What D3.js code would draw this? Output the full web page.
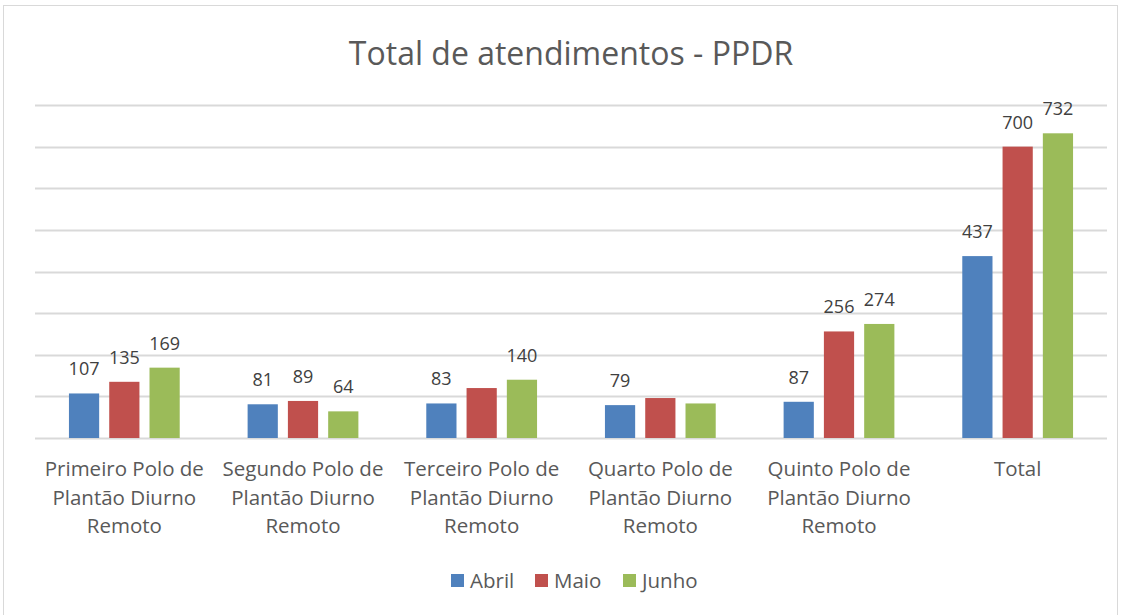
<!DOCTYPE html>
<html>
<head>
<meta charset="utf-8">
<title>Total de atendimentos - PPDR</title>
<script src="https://d3js.org/d3.v7.min.js"></script>
<style>
  body { margin: 0; background: #fff; }
  text { font-family: "Open Sans", Lato, sans-serif; }
</style>
</head>
<body>
<div id="chart"></div>
<script>
// dados
const categorias = [
  ["Primeiro Polo de", "Plantão Diurno", "Remoto"],
  ["Segundo Polo de", "Plantão Diurno", "Remoto"],
  ["Terceiro Polo de", "Plantão Diurno", "Remoto"],
  ["Quarto Polo de", "Plantão Diurno", "Remoto"],
  ["Quinto Polo de", "Plantão Diurno", "Remoto"],
  ["Total"]
];
const series = ["Abril", "Maio", "Junho"];
const abril = [107, 81, 83, 79, 87, 437];
const maio  = [135, 89, 120, 96, 256, 700];
const junho = [169, 64, 140, 83, 274, 732];
// rótulos que aparecem no gráfico (null = sem rótulo)
const rotAbril = [107, 81, 83, 79, 87, 437];
const rotMaio  = [135, 89, null, null, 256, 700];
const rotJunho = [169, 64, 140, null, 274, 732];
const yTicks = [0, 100, 200, 300, 400, 500, 600, 700, 800];
const cores = ["#4f81bd", "#c0504d", "#9bbb59"];

const valores = [abril, maio, junho];
const rotulos = [rotAbril, rotMaio, rotJunho];

let width = 1129, height = 615;
let margin = {left: 35, right: 22, top: 105, bottom: 177};

let svg = d3.select("#chart").append("svg")
    .attr("width", width)
    .attr("height", height);

// borda
svg.append("rect")
    .attr("x", 3.5).attr("y", 5.5)
    .attr("width", 1114).attr("height", 620)
    .attr("fill", "#fff")
    .attr("stroke", "#d9d9d9");

let x0 = d3.scaleBand()
    .domain(d3.range(categorias.length))
    .range([margin.left, width - margin.right])
    .paddingInner(0.38)
    .paddingOuter(0.19);

let x1 = d3.scaleBand()
    .domain(series)
    .range([0, x0.bandwidth()])
    .paddingInner(0.25);

let y = d3.scaleLinear()
    .domain([0, 800])
    .range([height - margin.bottom, margin.top]);

// grade
svg.append("g")
  .selectAll("line")
  .data(yTicks)
  .enter().append("line")
    .attr("x1", margin.left)
    .attr("x2", width - margin.right)
    .attr("y1", d => Math.round(y(d)) + 0.5)
    .attr("y2", d => Math.round(y(d)) + 0.5)
    .attr("stroke", "#d9d9d9")
    .attr("stroke-width", 2);

// barras e rótulos (um grupo por série, dados = índices das categorias)
series.forEach(function(s, j) {
  let g = svg.append("g");

  g.selectAll("rect")
    .data(d3.range(categorias.length))
    .enter().append("rect")
      .attr("x", i => x0(i) + x1(s))
      .attr("width", x1.bandwidth())
      .attr("y", i => y(valores[j][i]))
      .attr("height", i => y(0) - y(valores[j][i]))
      .attr("fill", cores[j]);

  g.selectAll("text")
    .data(d3.range(categorias.length).filter(i => rotulos[j][i] != null))
    .enter().append("text")
      .attr("x", i => x0(i) + x1(s) + x1.bandwidth() / 2)
      .attr("y", i => y(valores[j][i]) - 18)
      .attr("text-anchor", "middle")
      .attr("font-size", 18)
      .attr("fill", "#404040")
      .text(i => rotulos[j][i]);
});

// rótulos do eixo x
let rotX = svg.append("g")
  .selectAll("text")
  .data(categorias)
  .enter().append("text")
    .attr("x", (d, i) => x0(i) + x0.bandwidth() / 2)
    .attr("y", 476)
    .attr("text-anchor", "middle")
    .attr("font-size", 20.5)
    .attr("fill", "#595959");

rotX.selectAll("tspan")
  .data(d => d)
  .enter().append("tspan")
    .attr("x", function() { return d3.select(this.parentNode).attr("x"); })
    .attr("dy", (d, i) => i === 0 ? 0 : 28.5)
    .text(d => d);

// título
svg.append("text")
    .attr("x", 571)
    .attr("y", 65)
    .attr("text-anchor", "middle")
    .attr("font-size", 32)
    .attr("fill", "#595959")
    .text("Total de atendimentos - PPDR");

// legenda
let legX = [451, 535, 623];
let leg = svg.append("g")
  .selectAll("g")
  .data(series)
  .enter().append("g")
    .attr("transform", (d, i) => "translate(" + legX[i] + ",574)");

leg.append("rect")
    .attr("width", 13).attr("height", 13)
    .attr("fill", (d, i) => cores[i]);

leg.append("text")
    .attr("x", 19)
    .attr("y", 14)
    .attr("font-size", 20.5)
    .attr("fill", "#595959")
    .text(d => d);
</script>
</body>
</html>
